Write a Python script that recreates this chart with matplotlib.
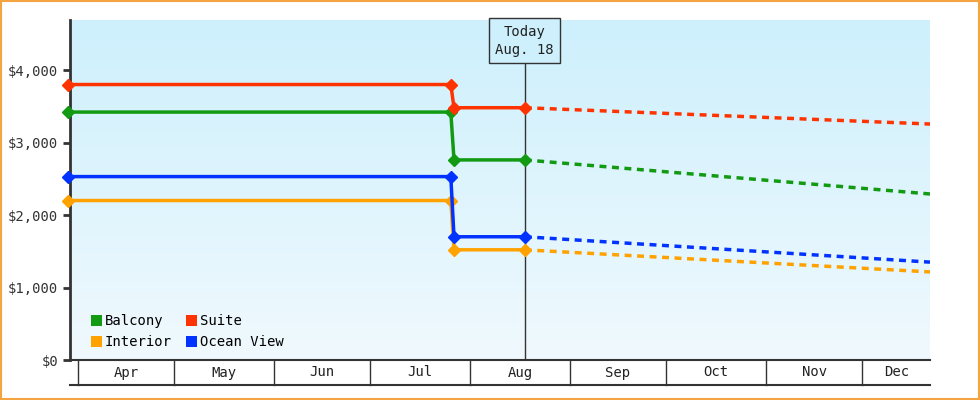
import matplotlib.pyplot as plt
import matplotlib.dates as mdates
import numpy as np
from datetime import date

plt.rcParams["font.family"] = ["DejaVu Sans Mono"]

# data
series = ["Balcony", "Suite", "Interior", "Ocean View"]
colors = ["#129a12", "#ff3300", "#ffa200", "#0033ff"]
hist_dates = [date(2024, 3, 29), date(2024, 7, 26), date(2024, 7, 27), date(2024, 8, 18)]
hist_values = {
    "Balcony": [3420, 3420, 2760, 2760],
    "Suite": [3800, 3800, 3480, 3480],
    "Interior": [2200, 2200, 1520, 1520],
    "Ocean View": [2530, 2530, 1700, 1700],
}
fc_dates = [date(2024, 8, 18), date(2024, 12, 22)]
fc_values = {
    "Balcony": [2760, 2290],
    "Suite": [3480, 3255],
    "Interior": [1520, 1215],
    "Ocean View": [1700, 1350],
}
months = ["Apr", "May", "Jun", "Jul", "Aug", "Sep", "Oct", "Nov", "Dec"]
month_starts = [date(2024, m, 1) for m in range(4, 13)]
today = date(2024, 8, 18)
xmin, xmax = date(2024, 3, 29), date(2024, 12, 22)

fig = plt.figure(figsize=(9.8, 4.0), dpi=100)
fig.patches.append(plt.Rectangle((0.001, 0.002), 0.998, 0.996, transform=fig.transFigure,
                                 fill=False, edgecolor="#f5a442", lw=1.5))
ax = fig.add_axes([70 / 980, 40 / 400, 860 / 980, 340 / 400])

# gradient background
grad = np.linspace(0, 1, 256).reshape(-1, 1)
c_top = np.array([0xcd, 0xf0, 0xfc]) / 255
c_bot = np.array([0xf0, 0xf9, 0xfe]) / 255
img = c_top[None, None, :] * (1 - grad[:, :, None]) + c_bot[None, None, :] * grad[:, :, None]
ax.imshow(img, extent=[0, 1, 0, 1], transform=ax.transAxes, aspect="auto", zorder=0)

x0, x1 = mdates.date2num(xmin) + 0.6, mdates.date2num(xmax)
ax.set_xlim(x0, x1)
ax.set_ylim(0, 4690)

for name, c in zip(series, colors):
    ax.plot(hist_dates, hist_values[name], color=c, lw=2.5, marker="D", ms=6, zorder=3, clip_on=False)
    ax.plot(fc_dates, fc_values[name], color=c, lw=2.5, ls=(0, (2, 1.6)), zorder=3)

# today line and box
ax.axvline(today, color="#333333", lw=1, zorder=2)
ax.annotate("Today\nAug. 18", xy=(mdates.date2num(today), 1.0), xycoords=("data", "axes fraction"),
            xytext=(0, -15), textcoords="offset points", ha="center", va="center", fontsize=10,
            color="#222222", linespacing=1.4,
            bbox=dict(boxstyle="square,pad=0.45", fc="#cdf0fc", ec="#333333", lw=1), zorder=5)

ax.set_yticks([0, 1000, 2000, 3000, 4000])
ax.set_yticklabels(["$0", "$1,000", "$2,000", "$3,000", "$4,000"], fontsize=10, color="#333333")
ax.tick_params(axis="y", length=5, width=2, color="#333333")
ax.set_xticks([])
for s in ["top", "right", "bottom"]:
    ax.spines[s].set_visible(False)
ax.spines["left"].set_linewidth(2)
ax.spines["left"].set_color("#333333")

# month boxes below the axis
trans = ax.get_xaxis_transform()
row_top, row_bot = 0.0, -25 / 340
ax.plot([x0, x1], [row_top, row_top], transform=trans, color="#333333", lw=1.5, clip_on=False)
ax.plot([x0, x1], [row_bot, row_bot], transform=trans, color="#333333", lw=1.5, clip_on=False)
edges = [mdates.date2num(d) for d in month_starts] + [x1]
for e in edges[:-1]:
    ax.plot([e, e], [row_top, row_bot], transform=trans, color="#333333", lw=1, clip_on=False)
for i, m in enumerate(months):
    ax.text((edges[i] + edges[i + 1]) / 2, row_bot / 2, m, transform=trans, ha="center",
            va="center", fontsize=10, color="#222222")

# legend
handles = [plt.Rectangle((0, 0), 1, 1, fc=c) for c in colors]
order = [0, 2, 1, 3]
ax.legend([handles[i] for i in order], [series[i] for i in order], ncol=2, loc="lower left",
          bbox_to_anchor=(0.01, -0.005), frameon=False, fontsize=10, handlelength=0.8,
          handleheight=0.8, handletextpad=0.2, columnspacing=1.0, labelspacing=0.5)

fig.savefig("out.png", dpi=100)
